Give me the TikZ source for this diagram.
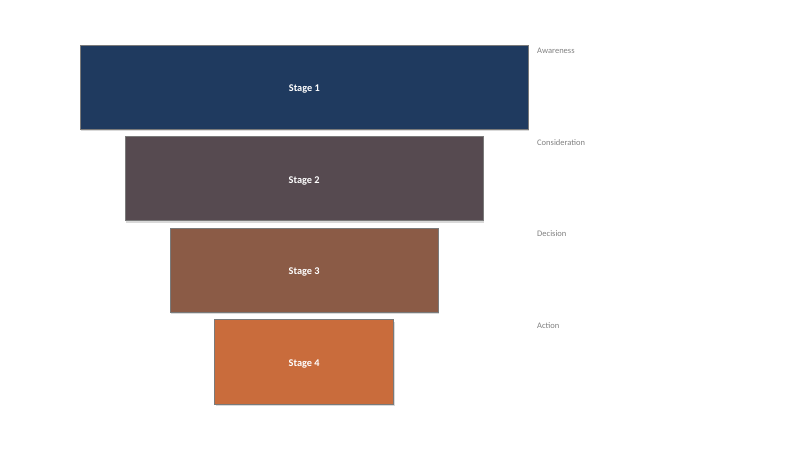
\documentclass[tikz,border=0pt]{standalone}
\usepackage{fontspec}
\setmainfont{Carlito}
\usetikzlibrary{shadows}
\definecolor{cA}{HTML}{1F3A5F}
\definecolor{cB}{HTML}{564A50}
\definecolor{cC}{HTML}{8B5B46}
\definecolor{cD}{HTML}{C96C3C}
\definecolor{edge}{HTML}{7A7A7A}
\definecolor{lbl}{HTML}{808080}
\tikzset{
  stagebox/.style={draw=edge, line width=0.8bp, anchor=north west, inner sep=0pt,
    drop shadow={shadow xshift=0.8bp, shadow yshift=-1.8bp, opacity=0.3},
    text=white, text height=8.8bp, text depth=0bp,
    font=\fontsize{10.3bp}{12bp}\selectfont\bfseries},
  sidelabel/.style={anchor=west, inner sep=0pt, text=lbl, font=\fontsize{8.5bp}{10bp}\selectfont}
}
\begin{document}
\begin{tikzpicture}[x=1bp, y=-1bp]
\useasboundingbox (0,0) rectangle (800,449);
\node[stagebox, fill=cA, minimum width=447.5bp, minimum height=84bp] (s1) at (80.2,45) {Stage 1};
\node[stagebox, fill=cB, minimum width=358.5bp, minimum height=84bp] (s2) at (124.5,136.5) {Stage 2};
\node[stagebox, fill=cC, minimum width=268.5bp, minimum height=84bp] (s3) at (169.5,228) {Stage 3};
\node[stagebox, fill=cD, minimum width=179bp, minimum height=84bp] (s4) at (214.3,319.5) {Stage 4};
\node[sidelabel] (l1) at (537,51) {Awareness};
\node[sidelabel] (l2) at (537,142.5) {Consideration};
\node[sidelabel] (l3) at (537,234) {Decision};
\node[sidelabel] (l4) at (537,325.5) {Action};
\end{tikzpicture}
\end{document}
